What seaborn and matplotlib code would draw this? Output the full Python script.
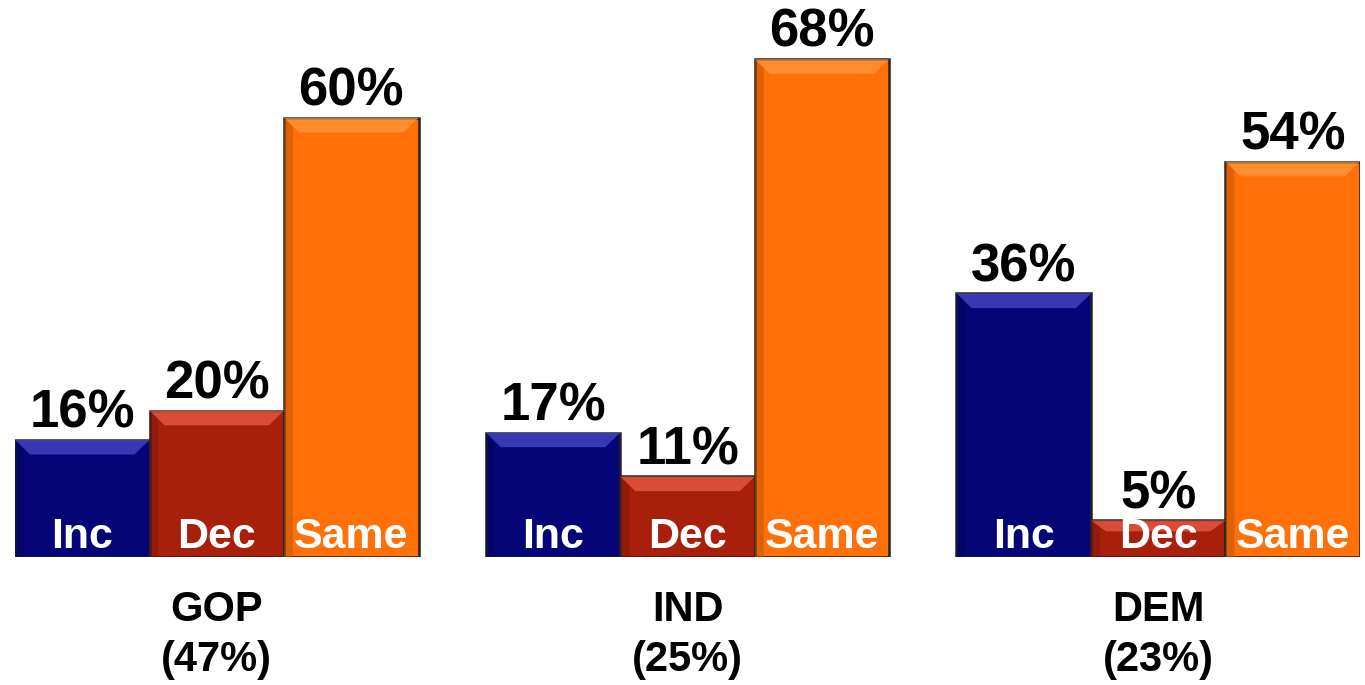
import matplotlib
matplotlib.use('Agg')
import matplotlib.pyplot as plt
import seaborn as sns
import pandas as pd
from matplotlib.patches import Polygon
from matplotlib.colors import to_rgb

# data
parties = ['GOP', 'IND', 'DEM']
party_share = ['47%', '25%', '23%']
answers = ['Inc', 'Dec', 'Same']
inc_vals = [16, 17, 36]
dec_vals = [20, 11, 5]
same_vals = [60, 68, 54]

colors = ['#050578', '#a8200c', '#ff7008']
highlights = ['#4e4ed0', '#f06048', '#ff9a40']

rows = []
for i, p in enumerate(parties):
    for a, vals in zip(answers, [inc_vals, dec_vals, same_vals]):
        rows.append({'Party': p, 'Answer': a, 'Value': vals[i]})
df = pd.DataFrame(rows)

sns.set_theme(style='white')
plt.rcParams['font.family'] = ['Liberation Sans', 'DejaVu Sans']

fig = plt.figure(figsize=(13.65, 6.85), dpi=100)
ax = fig.add_axes([15 / 1365, 128 / 685, 1345 / 1365, 549 / 685])

sns.barplot(data=df, x='Party', y='Value', hue='Answer', order=parties,
            hue_order=answers, palette=colors, width=6 / 7, gap=0,
            edgecolor='#222222', linewidth=1.8, legend=False, ax=ax,
            saturation=1)

ax.set_xlim(-0.4286, 2.4286)
ax.set_ylim(0, 75)
ax.axis('off')

# bevel highlight and value labels, placed from each bar's own geometry
for h, cont in enumerate(ax.containers):
    for j, bar in enumerate(cont):
        x0, w = bar.get_x(), bar.get_width()
        y1 = bar.get_height()
        dx = 0.032
        dy = min(2.0, y1 * 0.3)
        top = Polygon([(x0, y1), (x0 + w, y1), (x0 + w - dx, y1 - dy), (x0 + dx, y1 - dy)],
                      closed=True, facecolor=highlights[h], edgecolor='none', alpha=0.7, zorder=3)
        ax.add_patch(top)
        dark = tuple(c * 0.75 for c in to_rgb(colors[h]))
        left = Polygon([(x0, 0), (x0, y1), (x0 + dx * 0.6, y1 - dy * 0.6), (x0 + dx * 0.6, 0)],
                       closed=True, facecolor=dark, edgecolor='none', alpha=0.5, zorder=3)
        ax.add_patch(left)
        ax.annotate(f'{int(y1)}%', (x0 + w / 2, y1), xytext=(0, 1),
                    textcoords='offset points', ha='center', va='bottom',
                    fontsize=38, fontweight='bold', color='black', zorder=5)
        ax.annotate(answers[h], (x0 + w / 2, 0), xytext=(0, 0),
                    textcoords='offset points', ha='center', va='bottom',
                    fontsize=31, fontweight='bold', color='white', zorder=5)

for i, p in enumerate(parties):
    ax.annotate(f'{p}\n({party_share[i]})', (i, 0), xytext=(0, -24),
                textcoords='offset points', ha='center', va='top',
                fontsize=30, fontweight='bold', color='black',
                linespacing=1.3, annotation_clip=False)

fig.savefig('out.png', dpi=100)
